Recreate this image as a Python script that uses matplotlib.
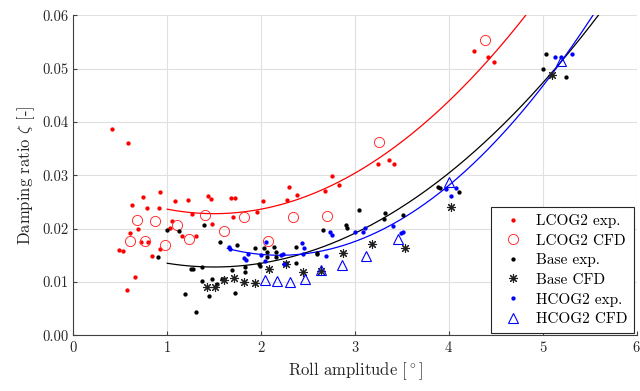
import numpy as np
import matplotlib
matplotlib.use('Agg')
import matplotlib.pyplot as plt
from matplotlib.ticker import FormatStrFormatter

# LCOG2
lcog2_exp_x = [0.41, 0.58, 0.62, 0.74, 0.79, 0.92, 0.91, 1.085, 1.22, 1.26, 1.43, 1.47, 1.48,
               1.68, 1.72, 1.70, 1.96, 2.02, 1.05, 1.03, 1.16, 1.31, 0.60, 0.69, 0.72, 0.80,
               0.49, 0.53, 0.92, 0.84, 0.66, 0.57, 2.28, 2.30, 2.38, 2.755, 2.83, 2.685,
               3.24, 3.36, 3.42, 4.27, 4.42, 4.48]
lcog2_exp_y = [0.0387, 0.0361, 0.0245, 0.0259, 0.0239, 0.0269, 0.0238, 0.0251, 0.0254, 0.0228,
               0.0261, 0.0256, 0.0208, 0.0257, 0.0257, 0.0221, 0.0231, 0.0252, 0.0215, 0.0202,
               0.0186, 0.0187, 0.0192, 0.0199, 0.0175, 0.0175, 0.0159, 0.0158, 0.0162, 0.0149,
               0.0110, 0.0084, 0.0254, 0.0278, 0.0263, 0.0299, 0.0282, 0.0271,
               0.0322, 0.0329, 0.0322, 0.0533, 0.0522, 0.0513]
lcog2_cfd_x = [0.60, 0.68, 0.765, 0.865, 0.98, 1.10, 1.23, 1.40, 1.60, 1.82, 2.07, 2.34, 2.70, 3.26, 4.38]
lcog2_cfd_y = [0.0176, 0.0217, 0.0177, 0.0214, 0.0169, 0.0206, 0.0180, 0.0225, 0.0195, 0.0221,
               0.0176, 0.0222, 0.0224, 0.0363, 0.0554]

# Base
base_exp_x = [0.90, 1.00, 1.13, 1.19, 1.25, 1.27, 1.31, 1.37, 1.37, 1.39, 1.45, 1.48, 1.53, 1.56,
              1.58, 1.61, 1.69, 1.72, 1.74, 1.83, 1.83, 1.93, 1.98, 1.99, 2.03, 2.06, 2.06, 2.14,
              2.16, 2.16, 2.27, 2.37, 2.37, 2.59, 2.60, 2.66, 2.90, 2.91, 3.04, 3.32, 3.31, 3.51,
              3.88, 3.90, 4.11, 5.00, 5.03, 5.25]
base_exp_y = [0.0146, 0.0197, 0.0196, 0.0077, 0.0125, 0.0124, 0.0044, 0.0128, 0.0102, 0.0206,
              0.0073, 0.0106, 0.0096, 0.0174, 0.0105, 0.0105, 0.0122, 0.0079, 0.0169, 0.0128,
              0.0118, 0.0164, 0.0133, 0.0130, 0.0164, 0.0157, 0.0147, 0.0165, 0.0157, 0.0146,
              0.0136, 0.0136, 0.0166, 0.0152, 0.0155, 0.0197, 0.0206, 0.0201, 0.0234, 0.0229,
              0.0218, 0.0225, 0.0278, 0.0276, 0.0269, 0.0499, 0.0527, 0.0484]
base_cfd_x = [1.42, 1.51, 1.60, 1.71, 1.82, 1.94, 2.08, 2.26, 2.45, 2.635, 2.87, 3.185, 3.53, 4.02, 5.10]
base_cfd_y = [0.0091, 0.0090, 0.0104, 0.0107, 0.0099, 0.0098, 0.0124, 0.0134, 0.0118, 0.0121,
              0.0154, 0.0172, 0.0163, 0.0241, 0.0488]

# HCOG2
hcog2_exp_x = [1.66, 1.67, 1.82, 1.84, 1.855, 2.00, 2.04, 2.05, 2.21, 2.23, 2.24, 2.44, 2.46, 2.45,
               2.69, 2.73, 2.75, 3.00, 3.085, 3.11, 3.40, 3.49, 3.51, 3.965, 4.08, 4.02, 5.13,
               5.19, 5.305]
hcog2_exp_y = [0.0166, 0.0162, 0.0145, 0.0141, 0.0152, 0.0150, 0.0140, 0.0175, 0.0151, 0.0153,
               0.0134, 0.0173, 0.0164, 0.0152, 0.0149, 0.0194, 0.0188, 0.0194, 0.0194, 0.0201,
               0.0205, 0.0191, 0.0193, 0.0275, 0.0277, 0.0261, 0.0521, 0.0522, 0.0528]
hcog2_cfd_x = [2.04, 2.17, 2.31, 2.465, 2.635, 2.86, 3.12, 3.455, 4.00, 5.19]
hcog2_cfd_y = [0.0103, 0.0102, 0.0099, 0.0106, 0.0122, 0.0131, 0.0148, 0.0181, 0.0287, 0.0515]

# quadratic fit coefficients (a, b, c) and start of each fit curve
lcog2_fit = [0.00338, -0.01014, 0.030405]
base_fit = [0.00282, -0.00846, 0.019145]
hcog2_fit = [0.00405, -0.01782, 0.034602]
fit_start = {'lcog2': 1.0, 'base': 1.0, 'hcog2': 1.64}

plt.rcParams['font.family'] = 'serif'
plt.rcParams['font.serif'] = ['cmr10']
plt.rcParams['mathtext.fontset'] = 'cm'
plt.rcParams['axes.formatter.use_mathtext'] = True

fig = plt.figure(figsize=(6.4, 3.91), dpi=100)
ax = fig.add_axes([0.1145, 0.1425, 0.8805, 0.8185])

red = '#ff0000'
blue = '#0000ff'
ast = (8, 2, 0)

for coefs, key, col in [(lcog2_fit, 'lcog2', red), (base_fit, 'base', 'k'), (hcog2_fit, 'hcog2', blue)]:
    xx = np.linspace(fit_start[key], 6, 300)
    ax.plot(xx, np.polyval(coefs, xx), color=col, lw=0.9, zorder=2)

ax.plot(lcog2_exp_x, lcog2_exp_y, 'o', color=red, ms=3.1, mec='none', label='LCOG2 exp.', zorder=3)
ax.plot(lcog2_cfd_x, lcog2_cfd_y, 'o', mfc='none', mec='#ff3030', mew=0.7, ms=7.3, label='LCOG2 CFD', zorder=3)
ax.plot(base_exp_x, base_exp_y, 'o', color='k', ms=3.1, mec='none', label='Base exp.', zorder=3)
ax.plot(base_cfd_x, base_cfd_y, ls='none', marker=ast, color='#202020', ms=6.5, mew=0.8, label='Base CFD', zorder=3)
ax.plot(hcog2_exp_x, hcog2_exp_y, 'o', color=blue, ms=3.1, mec='none', label='HCOG2 exp.', zorder=3)
ax.plot(hcog2_cfd_x, hcog2_cfd_y, '^', mfc='none', mec=blue, mew=0.8, ms=7.5, label='HCOG2 CFD', zorder=3)

ax.set_xlim(0, 6)
ax.set_ylim(0, 0.06)
ax.set_xticks(range(7))
ax.set_yticks(np.arange(0, 0.061, 0.01))
ax.yaxis.set_major_formatter(FormatStrFormatter('%.2f'))
ax.grid(True, color='#e0e0e0', lw=0.8)
ax.set_axisbelow(True)
for s in ['top', 'right']:
    ax.spines[s].set_visible(False)
for s in ['left', 'bottom']:
    ax.spines[s].set_color('#404040')
    ax.spines[s].set_linewidth(0.8)
ax.tick_params(direction='in', length=3, width=0.8, color='#404040', labelsize=10.5, labelcolor='#262626')
ax.set_xlabel(r'Roll amplitude [$^\circ$]', fontsize=12, color='#262626')
ax.set_ylabel(r'Damping ratio $\zeta$ [-]', fontsize=12, color='#262626')

leg = ax.legend(loc='lower right', bbox_to_anchor=(0.995, 0.007), borderaxespad=0, fontsize=11,
                fancybox=False, edgecolor='#262626', framealpha=1, labelspacing=0.38,
                handletextpad=0.5, handlelength=2.0, borderpad=0.45)
leg.get_frame().set_linewidth(0.8)

fig.savefig('out.png', dpi=100)
